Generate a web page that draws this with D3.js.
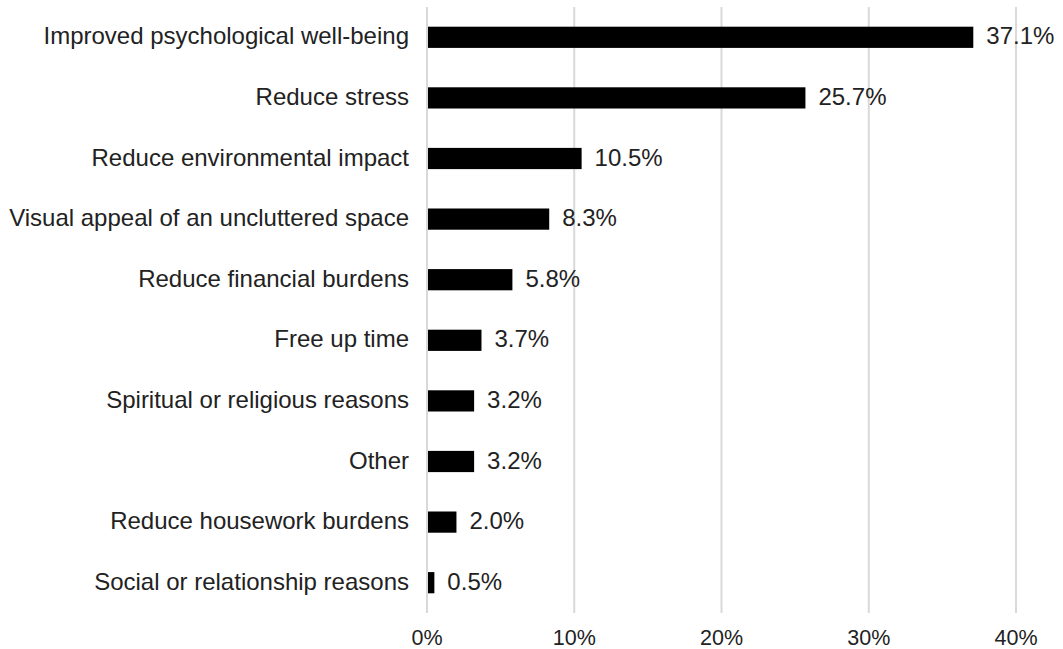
<!DOCTYPE html>
<html><head><meta charset="utf-8">
<script src="https://d3js.org/d3.v7.min.js"></script>
<style>body{margin:0;background:#fff;} text{font-family:"Liberation Sans",Arial,Helvetica,sans-serif;}</style>
</head><body>
<svg id="chart" width="1063" height="649"></svg>
<script>
const categories = ["Improved psychological well-being","Reduce stress","Reduce environmental impact","Visual appeal of an uncluttered space","Reduce financial burdens","Free up time","Spiritual or religious reasons","Other","Reduce housework burdens","Social or relationship reasons"];
const values = [37.1,25.7,10.5,8.3,5.8,3.7,3.2,3.2,2.0,0.5];
const ticks = [0,10,20,30,40];

const svg = d3.select("#chart");
const x = d3.scaleLinear().domain([0,40]).range([427,1016]);
const y = d3.scaleBand().domain(categories).range([7,613]).paddingInner(0.65).paddingOuter(0.325);

svg.selectAll("line.grid").data(ticks).enter().append("line")
  .attr("x1",d=>x(d)).attr("x2",d=>x(d)).attr("y1",7).attr("y2",613)
  .attr("stroke","#d9d9d9").attr("stroke-width",2);

svg.selectAll("text.tick").data(ticks).enter().append("text")
  .attr("x",d=>x(d)).attr("y",645).attr("text-anchor","middle")
  .attr("font-size",21.5).attr("fill","#222").text(d=>d+"%");

svg.selectAll("rect.bar").data(values).enter().append("rect")
  .attr("x",x(0)+1).attr("y",(d,i)=>y(categories[i]))
  .attr("width",d=>x(d)-x(0)-1).attr("height",y.bandwidth()).attr("fill","#000");

svg.selectAll("text.cat").data(categories).enter().append("text")
  .attr("x",409).attr("y",d=>y(d)+y.bandwidth()/2+7).attr("text-anchor","end")
  .attr("font-size",24).attr("fill","#222").text(d=>d);

svg.selectAll("text.val").data(values).enter().append("text")
  .attr("x",d=>x(d)+13).attr("y",(d,i)=>y(categories[i])+y.bandwidth()/2+7)
  .attr("font-size",24).attr("fill","#222").text(d=>d.toFixed(1)+"%");
</script>
</body></html>
